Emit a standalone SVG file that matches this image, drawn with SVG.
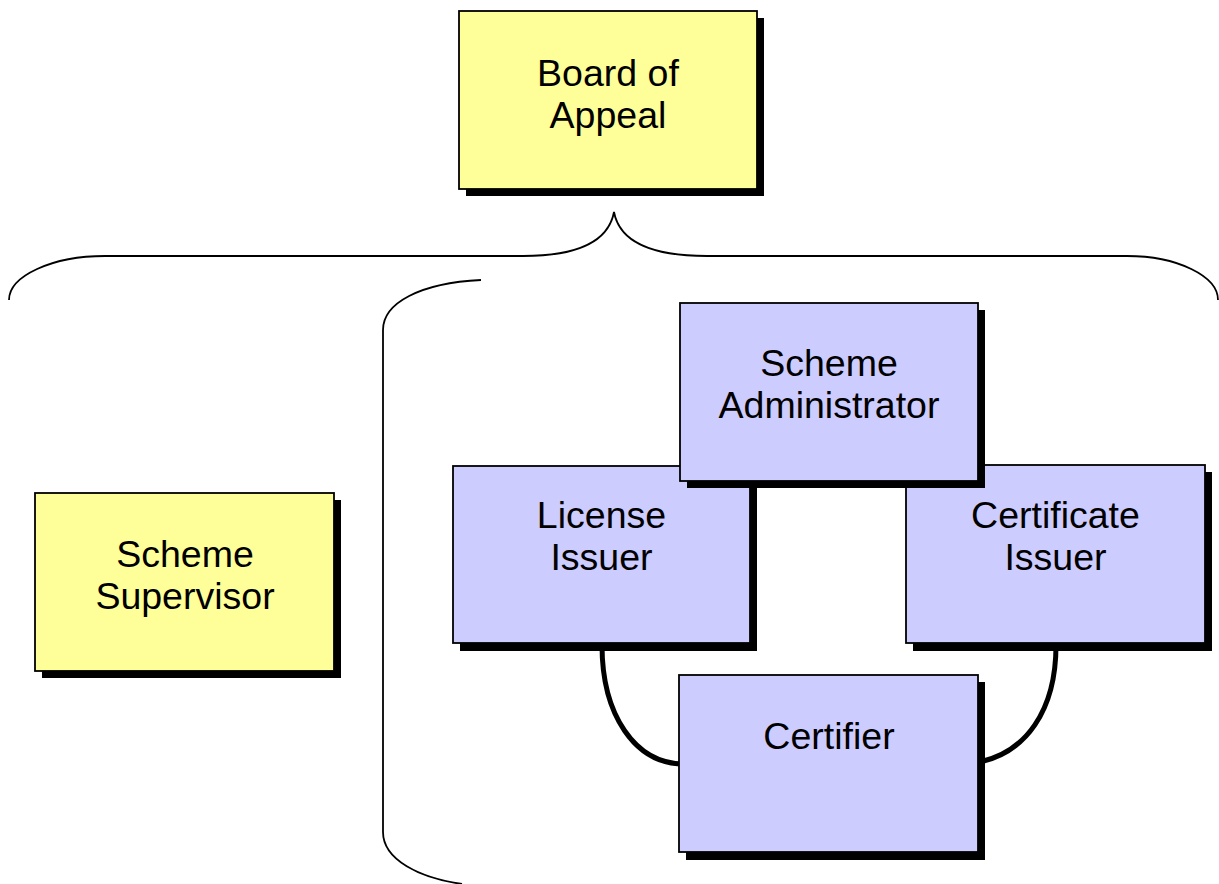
<svg xmlns="http://www.w3.org/2000/svg" width="1219" height="884" viewBox="0 0 1219 884">
<style>
.shadow{fill:#000}
.yel{fill:#FFFF99;stroke:#000;stroke-width:1.8}
.blu{fill:#CCCCFF;stroke:#000;stroke-width:1.8}
.lbl{font-family:"Liberation Sans",Arial,sans-serif;font-size:37.5px;fill:#000;text-anchor:middle}
.brace{fill:none;stroke:#000;stroke-width:1.8}
.link{fill:none;stroke:#000;stroke-width:5}
</style>
<rect width="1219" height="884" fill="#fff"/>
<g id="connectors">
<path class="brace" d="M9 300 C 9 276, 52 256, 105 256 L 523 256 C 572 256, 608 244, 614 212 C 620 244, 656 256, 707 256 L 1127 256 C 1177 256, 1218 276, 1218 300"/>
<path class="brace" d="M481 280 C 420 283, 383 303, 383 330 L 383 832 C 383 860, 420 878, 462 884"/>
<path class="link" d="M602 645 C 602 715, 635 764, 684 764"/>
<path class="link" d="M1056 645 C 1056 712, 1025 752, 980 762"/>
</g>
<g id="board-of-appeal">
<rect class="shadow" x="466" y="18" width="298" height="178"/>
<rect class="yel" x="459" y="11" width="298" height="178"/>
<text class="lbl" x="608" y="86">Board of</text>
<text class="lbl" x="608" y="128">Appeal</text>
</g>
<g id="scheme-supervisor">
<rect class="shadow" x="42" y="500" width="299" height="178"/>
<rect class="yel" x="35" y="493" width="299" height="178"/>
<text class="lbl" x="185" y="567">Scheme</text>
<text class="lbl" x="185" y="609">Supervisor</text>
</g>
<g id="license-issuer">
<rect class="shadow" x="460" y="473" width="297" height="178"/>
<rect class="blu" x="453" y="466" width="297" height="177"/>
<text class="lbl" x="601.5" y="528">License</text>
<text class="lbl" x="601.5" y="570">Issuer</text>
</g>
<g id="certificate-issuer">
<rect class="shadow" x="913" y="472" width="299" height="179"/>
<rect class="blu" x="906" y="465" width="299" height="178"/>
<text class="lbl" x="1055.5" y="528">Certificate</text>
<text class="lbl" x="1055.5" y="570">Issuer</text>
</g>
<g id="scheme-administrator">
<rect class="shadow" x="687" y="310" width="298" height="178"/>
<rect class="blu" x="680" y="303" width="298" height="178"/>
<text class="lbl" x="829" y="376">Scheme</text>
<text class="lbl" x="829" y="418">Administrator</text>
</g>
<g id="certifier">
<rect class="shadow" x="686" y="682" width="299" height="178"/>
<rect class="blu" x="679" y="675" width="299" height="177"/>
<text class="lbl" x="829" y="749">Certifier</text>
</g>
</svg>
